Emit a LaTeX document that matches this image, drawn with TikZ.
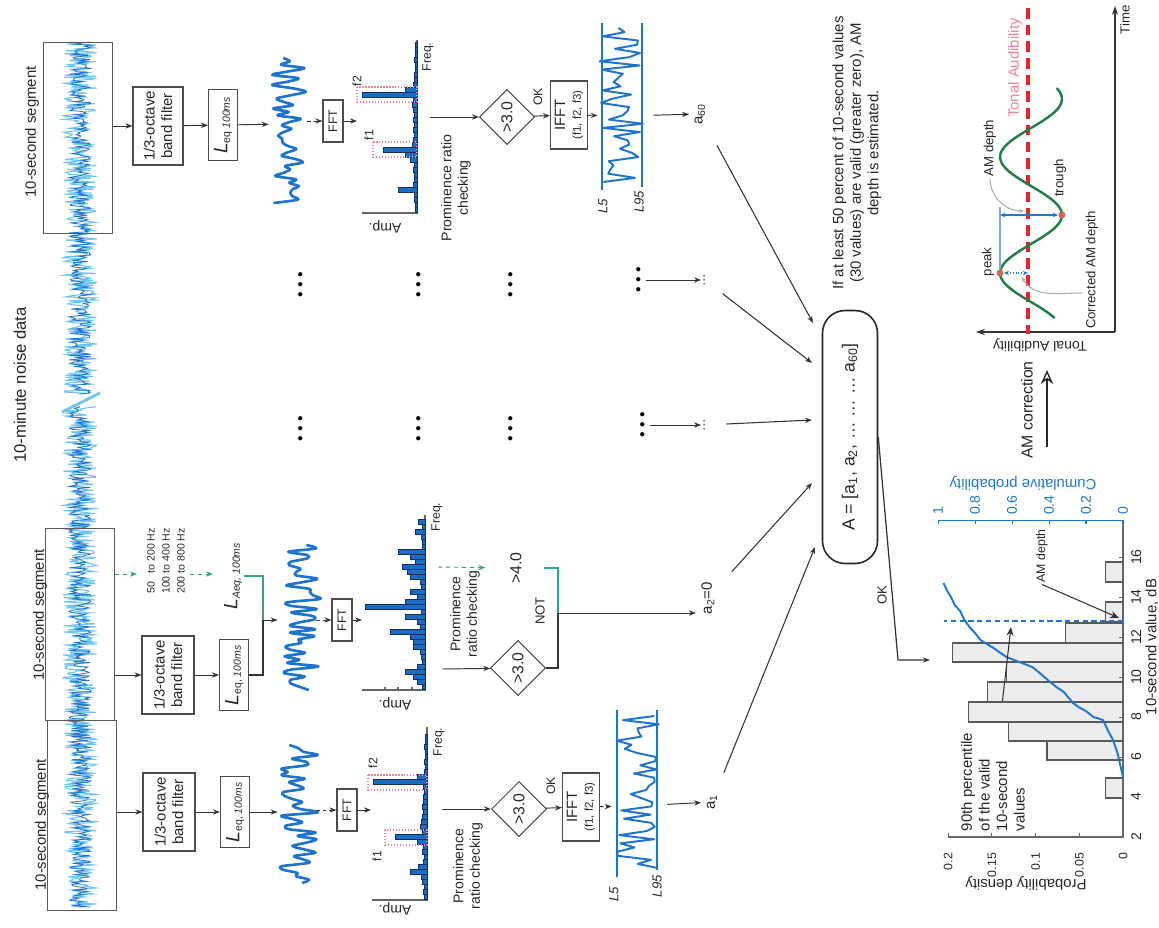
\documentclass[tikz,border=0pt]{standalone}
\usepackage{fontspec}
\setmainfont{Liberation Sans}
\usetikzlibrary{arrows.meta,shapes.geometric}

\definecolor{sigblue}{RGB}{30,115,205}
\definecolor{noisecyan}{RGB}{110,195,240}
\definecolor{barblue}{RGB}{25,110,195}
\definecolor{bardark}{RGB}{20,45,95}
\definecolor{tealline}{RGB}{45,165,140}
\definecolor{amgreen}{RGB}{35,125,70}
\definecolor{dotbrown}{RGB}{195,110,85}
\definecolor{audred}{RGB}{235,35,45}
\definecolor{audpink}{RGB}{245,130,150}
\definecolor{cumblue}{RGB}{30,120,210}

\begin{document}
\begin{tikzpicture}[x=0.02cm, y=-0.02cm,
    lbl/.style={rotate=90, inner sep=1pt, align=center, text=black!85,
      font=\fontsize{8.5}{10}\selectfont},
    smalllbl/.style={lbl, font=\fontsize{7}{8}\selectfont},
    flip/.style={rotate=180, inner sep=1pt, text=black!85,
      font=\fontsize{8}{9.5}\selectfont},
    procbox/.style={lbl, draw=black!70, line width=0.6pt},
    segbox/.style={draw=black!65, line width=0.6pt, minimum width=1.38cm,
      minimum height=3.82cm, inner sep=0pt},
    check/.style={lbl, diamond, draw=black!70, line width=0.6pt, inner sep=0pt,
      minimum width=1.1cm, minimum height=1.1cm, font=\fontsize{9}{11}\selectfont},
    tracebox/.style={inner sep=0pt, minimum width=0.76cm, minimum height=2cm},
    dotrow/.style={rotate=90, inner sep=1pt, font=\fontsize{9}{10}\selectfont},
    fewdots/.style={rotate=90, inner sep=1pt, text=black!45, font=\fontsize{4.5}{5}\selectfont},
    arr/.style={-{Stealth[length=4pt,width=3pt]}, line width=0.55pt, black!80},
    dasharr/.style={arr, dash pattern=on 2pt off 1.5pt},
    tealdash/.style={arr, tealline, dash pattern=on 2.5pt off 2pt},
    tealsolid/.style={tealline, line width=0.7pt},
    feed/.style={arr, line width=0.6pt, shorten <=0.35cm},
    sig/.style={sigblue, line width=1.5pt, line join=round},
    specbar/.style={fill=barblue, draw=bardark, line width=0.3pt},
    peakbox/.style={draw=audpink, densely dotted, line width=0.7pt},
    axisline/.style={black!60, line width=0.6pt},
    histbar/.style={fill=gray!15, draw=black!65, line width=0.7pt},
    ptr/.style={-{Stealth[length=5pt,width=4pt]}, line width=0.6pt, black!80},
    leader/.style={gray!65, line width=0.6pt, -{Stealth[length=3pt,width=2.5pt]}},
    dblarr/.style={{Stealth[length=3pt,width=2.5pt]}-{Stealth[length=3pt,width=2.5pt]},
      cumblue, line width=0.6pt},
    extremum/.style={circle, fill=dotbrown, inner sep=0pt, minimum size=0.14cm}
  ]
  \useasboundingbox (0,0) rectangle (1159,927);
  \pgfmathsetseed{42}

  % 10-minute record
  \draw[noisecyan, line width=0.6pt] plot[domain=42:394, samples=360] ({80+17*rand}, \x);
  \draw[sigblue, line width=0.45pt] plot[domain=42:394, samples=320] ({80+11*rand}, \x);
  \draw[noisecyan, line width=0.6pt] plot[domain=406:907, samples=500] ({80+17*rand}, \x);
  \draw[sigblue, line width=0.45pt] plot[domain=406:907, samples=450] ({80+11*rand}, \x);
  \draw[noisecyan, line width=1.6pt] (62,412) -- (100,393);
  \node[lbl, font=\fontsize{9.5}{11}\selectfont] (title) at (20,385) {10-minute noise data};

  \node[segbox] (seg60) at (78,138) {};
  \node[segbox, minimum height=3.85cm] (seg2) at (80,624.5) {};
  \node[segbox, minimum height=3.8cm] (seg1) at (82,815.5) {};
  \node[lbl] (lab60) at (32,132) {10-second segment};
  \node[lbl] (lab2) at (40,615) {10-second segment};
  \node[lbl] (lab1) at (42,825) {10-second segment};

  % segment 1
  \node[procbox, minimum width=1.56cm, minimum height=1.04cm] (filt1) at (169,812) {1/3-octave\\band filter};
  \node[procbox, minimum width=1.42cm, minimum height=0.58cm] (leq1) at (235,812) {{\fontsize{11}{12}\selectfont\itshape L}\textsubscript{eq, \itshape 100ms}};
  \node[tracebox] (tr1) at (297,812) {};
  \draw[sig] plot[smooth, domain=745:883, samples=42] ({300+19*rand}, \x);
  \node[procbox, minimum width=0.84cm, minimum height=0.4cm, font=\fontsize{7}{8}\selectfont] (fft1) at (347,810) {FFT};
  \coordinate (sp1in) at (371,810);
  \coordinate (sp1out) at (442,809);
  \node[check] (dia1) at (519,809) {>3.0};
  \node[procbox, minimum width=1.36cm, minimum height=0.74cm] (ifft1) at (581,807) {IFFT\\[-1pt]{\fontsize{6.5}{7}\selectfont(f1, f2, f3)}};
  \node[tracebox, minimum width=0.96cm] (lt1) at (636,806) {};
  \node[lbl, inner sep=3pt] (a1) at (712,802) {a\textsubscript{1}};
  \draw[arr] (seg1.east |- filt1) -- (filt1);
  \draw[arr] (filt1) -- (leq1);
  \draw[arr] (leq1) -- (tr1);
  \draw[dasharr] (tr1.east |- fft1) -- (fft1);
  \draw[arr] (fft1) -- (sp1in);
  \draw[arr] (sp1out) -- (dia1);
  \draw[arr] (dia1) -- (ifft1);
  \draw[dasharr] (ifft1) -- (lt1);
  \draw[arr, shorten <=0.14cm] (lt1) -- (a1);
  \node[smalllbl] (ok1) at (551,786) {OK};
  \node[lbl, font=\fontsize{8}{9.5}\selectfont] (pr1) at (468,866) {Prominence\\ratio checking};

  % segment 2
  \node[procbox, minimum width=1.56cm, minimum height=1.04cm] (filt2) at (168,675) {1/3-octave\\band filter};
  \node[procbox, minimum width=1.42cm, minimum height=0.58cm] (leq2) at (234,675) {{\fontsize{11}{12}\selectfont\itshape L}\textsubscript{eq, \itshape 100ms}};
  \coordinate (j2) at (263,620);
  \node[tracebox] (tr2) at (297,620) {};
  \draw[sig] plot[smooth, domain=545:690, samples=44] ({301+19*rand}, \x);
  \node[procbox, minimum width=0.84cm, minimum height=0.4cm, font=\fontsize{7}{8}\selectfont] (fft2) at (342,620) {FFT};
  \coordinate (sp2in) at (362,620);
  \coordinate (sp2out) at (442,669);
  \node[check] (dia2) at (518,668) {>3.0};
  \coordinate (nj2) at (558,613);
  \node[lbl, inner sep=3pt] (a2) at (708,598) {a\textsubscript{2}=0};
  \draw[arr] (seg2.east |- filt2) -- (filt2);
  \draw[arr] (filt2) -- (leq2);
  \draw[axisline, black!80] (leq2.south) -| (j2);
  \draw[arr] (j2) -- (tr2);
  \draw[dasharr] (tr2.east |- fft2) -- (fft2);
  \draw[arr] (fft2) -- (sp2in);
  \draw[arr] (sp2out) -- (dia2);
  \draw[axisline, black!80] (dia2.south) -| (nj2);
  \draw[arr] (nj2) -- (nj2 -| a2.north);
  \node[smalllbl, font=\fontsize{7.5}{9}\selectfont] (not2) at (540,611) {NOT};
  \node[lbl, font=\fontsize{8}{9.5}\selectfont] (pr2) at (465,614) {Prominence\\ratio checking};

  % A-weighted option (segment 2)
  \node[lbl, font=\fontsize{6}{8.5}\selectfont, align=left] (bands) at (166,561) {50\phantom{0} to 200 Hz\\100 to 400 Hz\\200 to 800 Hz};
  \node[lbl] (laeq) at (233,576) {{\fontsize{11}{12}\selectfont\itshape L}\textsubscript{\itshape Aeq, 100ms}};
  \node[lbl, font=\fontsize{9}{11}\selectfont] (gt4) at (516,568) {>4.0};
  \coordinate (tin) at (137,574);
  \coordinate (tout) at (190,574);
  \coordinate (sp2t) at (438,567);
  \draw[tealdash] (seg2.east |- tin) -- (tin);
  \draw[tealdash, shorten >=0.18cm] (tout) -- (laeq.north |- tout);
  \draw[tealsolid] (laeq.south) -| (j2);
  \draw[tealdash, shorten >=0.46cm] (sp2t) -- (gt4);
  \draw[tealsolid, shorten <=0.4cm] (gt4.south) -| (nj2);

  % segment 60
  \node[procbox, minimum width=1.56cm, minimum height=1.0cm] (filt60) at (158,126) {1/3-octave\\band filter};
  \node[procbox, minimum width=1.42cm, minimum height=0.58cm] (leq60) at (223,125) {{\fontsize{11}{12}\selectfont\itshape L}\textsubscript{eq \itshape 100ms}};
  \node[tracebox] (tr60) at (288,124) {};
  \draw[sig] plot[smooth, domain=58:203, samples=44] ({289+17*rand}, \x);
  \node[procbox, minimum width=0.84cm, minimum height=0.4cm, font=\fontsize{7}{8}\selectfont] (fft60) at (333,121) {FFT};
  \coordinate (sp60in) at (357,121);
  \coordinate (sp60out) at (430,117);
  \node[check] (dia60) at (507,117) {>3.0};
  \node[procbox, minimum width=1.36cm, minimum height=0.74cm] (ifft60) at (569,115) {IFFT\\[-1pt]{\fontsize{6.5}{7}\selectfont(f1, f2, f3)}};
  \node[tracebox, minimum width=0.96cm] (lt60) at (622,116) {};
  \node[lbl, inner sep=3pt] (a60) at (700,114) {a\textsubscript{60}};
  \draw[arr] (seg60.east |- filt60) -- (filt60);
  \draw[arr] (filt60) -- (leq60);
  \draw[arr] (leq60) -- (tr60);
  \draw[dasharr] (tr60.east |- fft60) -- (fft60);
  \draw[arr] (fft60) -- (sp60in);
  \draw[arr] (sp60out) -- (dia60);
  \draw[arr] (dia60) -- (ifft60);
  \draw[dasharr] (ifft60) -- (lt60);
  \draw[arr, shorten <=0.14cm] (lt60) -- (a60);
  \node[smalllbl] (ok60) at (538,97) {OK};
  \node[lbl, font=\fontsize{8}{9.5}\selectfont] (pr60) at (456,188) {Prominence ratio\\checking};

  % spectra
  \draw[axisline] (372,900) -- (427,900) -- (427,727);
  \foreach \yy/\ll in {737/2,742/2,747/3,752/2,757/2,762/3,767/2,772/3,777/10,782/54,787/4,792/3,797/4,802/4,807/5,812/4,817/5,822/6,827/7,832/5,837/32,842/10,847/4,852/5,857/3,862/4,867/9,872/17,877/6,882/5,887/3,892/4,897/3}
    \draw[specbar] ({427-\ll},{\yy-2.5}) rectangle (427,{\yy+2.5});
  \draw[peakbox] (368,775) rectangle (427,790);
  \draw[peakbox] (385,830) rectangle (427,845);
  \node[flip] (amp1) at (395,909) {Amp.};
  \node[smalllbl] (freq1) at (439,742) {Freq.};
  \node[smalllbl] (f1a) at (377,856) {f1};
  \node[smalllbl] (f2a) at (373,763) {f2};

  \draw[axisline] (362,690) -- (425,690) -- (425,515);
  \foreach \tx in {385,398,412} \draw[axisline] (\tx,690) -- (\tx,687);
  \foreach \yy/\ll in {522/7,527/3,532/10,537/4,542/3,547/3,552/27,557/15,562/10,567/23,572/18,577/15,582/5,587/4,592/15,597/8,602/20,607/60,612/4,617/20,622/8,627/5,632/35,637/15,642/12,647/12,652/5,657/4,662/3,667/8,672/20,677/12,682/8,687/3}
    \draw[specbar] ({425-\ll},{\yy-2.5}) rectangle (425,{\yy+2.5});
  \node[flip] (amp2) at (395,704) {Amp.};
  \node[smalllbl] (freq2) at (437,517) {Freq.};

  \draw[axisline] (362,213) -- (417,213) -- (417,40);
  \foreach \yy/\ll in {45/2,50/2,55/2,60/3,65/2,70/2,75/3,80/3,85/4,90/12,95/55,100/4,105/5,110/4,115/3,120/4,125/3,130/4,135/3,140/4,145/5,150/34,155/12,160/7,165/3,170/4,175/3,180/3,185/4,190/19,195/3,200/3,205/2,210/2}
    \draw[specbar] ({417-\ll},{\yy-2.5}) rectangle (417,{\yy+2.5});
  \draw[peakbox] (357,87) rectangle (417,102);
  \draw[peakbox] (373,142) rectangle (417,157);
  \node[flip] (amp60) at (385,227) {Amp.};
  \node[smalllbl] (freq60) at (428,57) {Freq.};
  \node[smalllbl] (f1c) at (369,135) {f1};
  \node[smalllbl] (f2c) at (357,81) {f2};

  % L5 / L95 traces
  \draw[sigblue, line width=0.9pt] (617,710) -- (617,877);
  \draw[sigblue, line width=0.9pt] (657,710) -- (657,870);
  \draw[sig, line width=1.1pt] plot[domain=716:868, samples=38] ({637+23*rand}, \x);
  \node[smalllbl, font=\itshape\fontsize{7.5}{9}\selectfont] (l5a) at (614,894) {L5};
  \node[smalllbl, font=\itshape\fontsize{7.5}{9}\selectfont] (l95a) at (657,886) {L95};
  \draw[sigblue, line width=0.9pt] (602,23) -- (602,190);
  \draw[sigblue, line width=0.9pt] (642,23) -- (642,187);
  \draw[sig, line width=1.1pt] plot[domain=28:182, samples=38] ({622+23*rand}, \x);
  \node[smalllbl, font=\itshape\fontsize{7.5}{9}\selectfont] (l5c) at (603,206) {L5};
  \node[smalllbl, font=\itshape\fontsize{7.5}{9}\selectfont] (l95c) at (639,202) {L95};

  % omitted segments
  \foreach \xx [count=\i] in {302,420,512} {
    \node[dotrow] (dA\i) at (\xx,285) {\textbullet\ \textbullet\ \textbullet};
    \node[dotrow] (dB\i) at (\xx,429) {\textbullet\ \textbullet\ \textbullet};
  }
  \node[dotrow] (dC1) at (640,280) {\textbullet\ \textbullet\ \textbullet};
  \node[dotrow] (dC2) at (644,425) {\textbullet\ \textbullet\ \textbullet};
  \node[fewdots] (dS1) at (705,280) {\textbullet\,\textbullet\,\textbullet};
  \node[fewdots] (dS2) at (705,425) {\textbullet\,\textbullet\,\textbullet};
  \draw[arr] (dC1) -- (dS1);
  \draw[arr] (dC2) -- (dS2);

  % collected values
  \node[lbl, draw=black!85, line width=0.9pt, rounded corners=0.45cm, minimum width=5.06cm,
    minimum height=1.1cm, font=\fontsize{10}{12}\selectfont] (A) at (850,437)
    {A = [a\textsubscript{1}, a\textsubscript{2}, \dots\ \dots\ \dots\ a\textsubscript{60}]};
  \coordinate (in1) at (815,547);
  \coordinate (in2) at (812,483);
  \coordinate (in3) at (812,420);
  \coordinate (in4) at (812,363);
  \coordinate (in5) at (813,323);
  \draw[feed] (a1) -- (in1);
  \draw[feed] (a2) -- (in2);
  \draw[feed] (dS2) -- (in3);
  \draw[feed] (dS1) -- (in4);
  \draw[feed] (a60) -- (in5);
  \node[lbl] (rule) at (857,153) {If at least 50 percent of 10-second values\\(30 values) are valid (greater zero), AM\\depth is estimated.};
  \coordinate (okc) at (898,660);
  \coordinate (hin) at (930,660);
  \draw[arr, line width=0.7pt] (A.south) -- (okc) -- (hin);
  \node[smalllbl, font=\fontsize{7.5}{9}\selectfont] (okA) at (882,595) {OK};

  % histogram of 10-second values
  \begin{scope}[shift={(1123,877)}, x={(-17.5cm,0cm)}, y={(0cm,0.4cm)}]
    \foreach \lo/\hi/\dd in {3.95/4.95/0.02, 5.85/6.8/0.087, 6.8/7.75/0.131, 7.75/8.75/0.177, 8.75/9.75/0.155, 9.75/10.75/0.133, 10.75/11.7/0.195, 11.7/12.7/0.066, 12.75/13.75/0.02, 14.75/15.75/0.02}
      \draw[histbar] (0,\lo) rectangle (\dd,\hi);
    \draw[axisline] (0.2,2) -- (0,2) -- (0,17.85);
    \foreach \dd [count=\i] in {0,0.05,0.1,0.15,0.2} {
      \draw[axisline] (\dd,2) -- (\dd,2.2);
      \node[lbl, anchor=east, font=\fontsize{7}{8}\selectfont] (dt\i) at (\dd,1.3) {\dd};
    }
    \foreach \vv [count=\i] in {2,4,...,16} {
      \draw[axisline] (0,\vv) -- (0.005,\vv);
      \node[lbl, anchor=north, font=\fontsize{8}{9}\selectfont] (vt\i) at (-0.007,\vv) {\vv};
    }
  \end{scope}
  \begin{scope}[shift={(1123,877)}, x={(-3.7cm,0cm)}, y={(0cm,0.4cm)}]
    \draw[cumblue, line width=0.6pt] (0,17.85) -- (1,17.85);
    \foreach \cc [count=\i] in {0,0.2,0.4,0.6,0.8,1} {
      \draw[cumblue, line width=0.6pt] (\cc,17.85) -- (\cc,17.65);
      \node[lbl, anchor=west, text=cumblue, font=\fontsize{8}{9}\selectfont] (ct\i) at (\cc,18.0) {\cc};
    }
    \draw[cumblue, line width=1.1pt, line join=round] plot coordinates {(0,5.0) (0.015,5.6) (0.03,6.2) (0.054,6.85) (0.08,7.3) (0.108,7.85) (0.14,7.95) (0.16,8.0) (0.2,8.3) (0.24,8.5) (0.27,8.7) (0.32,9.25) (0.36,9.5) (0.4,9.8) (0.45,10.2) (0.49,10.5) (0.56,10.75) (0.63,11.0) (0.70,11.45) (0.77,11.85) (0.80,12.2) (0.83,12.5) (0.86,12.9) (0.88,13.3) (0.91,13.6) (0.93,14.0) (0.95,14.3) (0.97,14.7)};
    \draw[cumblue, line width=1.1pt, dash pattern=on 3pt off 2pt] (0,12.8) -- (0.97,12.8);
  \end{scope}
  \node[flip, font=\fontsize{8.5}{10}\selectfont] (pdl) at (1026,883) {Probability density};
  \node[flip, text=cumblue, font=\fontsize{8.5}{10}\selectfont] (cpl) at (1023,483) {Cumulative probability};
  \node[lbl] (xvl) at (1152,647) {10-second value, dB};
  \node[lbl, font=\fontsize{7}{8}\selectfont] (hamd) at (1042,556) {AM depth};
  \coordinate (hamdt) at (1119,618);
  \draw[ptr] (hamd.west) -- (hamdt);
  \node[lbl, align=left] (p90) at (993,782) {90th percentile\\of the valid\\10-second\\values};
  \coordinate (p90t) at (1011,627);
  \draw[ptr, shorten <=0.6cm] (p90) -- (p90t);

  % AM correction
  \coordinate (amc0) at (1047,447);
  \coordinate (amc1) at (1047,370);
  \draw[-{Stealth[open, length=8pt, width=7pt]}, line width=0.8pt, black!85] (amc0) -- (amc1);
  \node[lbl, font=\fontsize{9}{10}\selectfont] (amcl) at (1027,410) {AM correction};

  % tonal audibility sketch
  \coordinate (org) at (1115,332);
  \coordinate (tend) at (1115,6);
  \coordinate (aend) at (976,332);
  \draw[-{Stealth[length=5pt,width=3.5pt]}, line width=0.7pt, black!80] (org) -- (tend);
  \draw[-{Stealth[length=5pt,width=3.5pt]}, line width=0.7pt, black!80] (org) -- (aend);
  \node[lbl, font=\fontsize{7.5}{9}\selectfont] (timel) at (1125,20) {Time};
  \node[flip] (tal) at (1040,345) {Tonal Audibility};
  \draw[audred, line width=2.2pt, dash pattern=on 6pt off 3.5pt] (1028,8) -- (1028,334);
  \node[lbl, text=audpink] (thl) at (1015,68) {Tonal Audibility};
  \draw[amgreen, line width=1.4pt] plot[smooth, domain=88:318, samples=60] ({1031-31*cos(3.1034*(\x-273))}, \x);
  \coordinate (pkt) at (1000,207);
  \coordinate (amd0) at (1000,215);
  \coordinate (thr) at (1028,273);
  \node[extremum] (pk) at (1000,273) {};
  \node[extremum] (tro) at (1062,215) {};
  \draw[cumblue!60, line width=0.6pt] (pk) -- (pkt);
  \draw[dblarr] (amd0) -- (tro);
  \draw[dblarr, densely dotted] (pk) -- (thr);
  \node[smalllbl, font=\fontsize{7.5}{9}\selectfont] (pkl) at (988,262) {peak};
  \node[smalllbl, font=\fontsize{7.5}{9}\selectfont] (trl) at (1060,178) {trough};
  \node[smalllbl, font=\fontsize{7.5}{9}\selectfont] (amdl) at (990,148) {AM depth};
  \node[smalllbl, font=\fontsize{7.5}{9}\selectfont] (cadl) at (1092,270) {Corrected AM depth};
  \coordinate (amdt) at (1024,211);
  \coordinate (cad0) at (1082,293);
  \coordinate (cadt) at (1022,277);
  \draw[leader] (amdl.west) to[out=-90, in=180] (amdt);
  \draw[leader] (cad0) to[out=180, in=-60] (cadt);
\end{tikzpicture}
\end{document}
